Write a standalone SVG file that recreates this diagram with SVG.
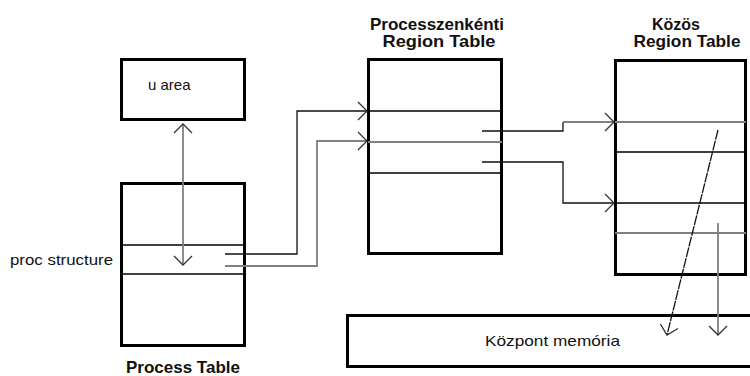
<svg xmlns="http://www.w3.org/2000/svg" width="750" height="376" viewBox="0 0 750 376">
<style>
.box{fill:#fff;stroke:#000;stroke-width:3}
.row{stroke:#000;stroke-width:1.3;fill:none}
.rowg{stroke:#808080;stroke-width:1.8;fill:none}
.ln{stroke:#111;stroke-width:1.3;fill:none}
.lng{stroke:#808080;stroke-width:1.8;fill:none}
.t{font-family:"Liberation Sans",Arial,sans-serif;font-size:15px;fill:#111}
.h{font-family:"Liberation Sans",Arial,sans-serif;font-size:16.5px;font-weight:bold;fill:#111}
</style>
<defs>
<marker id="ah" viewBox="0 0 24 24" refX="12" refY="12" markerWidth="24" markerHeight="24" markerUnits="userSpaceOnUse" orient="auto-start-reverse">
<path d="M3,3 L12,12 L3,21" fill="none" stroke="#333" stroke-width="1.3"/>
</marker>
</defs>
<g id="u-area">
<rect class="box" x="121.5" y="59.5" width="123" height="60"/>
<text class="t" x="148" y="90">u area</text>
</g>
<g id="process-table">
<rect class="box" x="121.5" y="183.5" width="123" height="162"/>
<line class="row" x1="121" y1="245" x2="246" y2="245"/>
<line class="row" x1="121" y1="274" x2="246" y2="274"/>
<text class="t" x="10" y="265" textLength="103" lengthAdjust="spacingAndGlyphs">proc structure</text>
<text class="h" x="183" y="373" text-anchor="middle" textLength="114" lengthAdjust="spacingAndGlyphs">Process Table</text>
</g>
<g id="proc-region-table">
<rect class="box" x="368.5" y="59.5" width="133" height="194"/>
<line class="row" x1="368" y1="111" x2="502" y2="111"/>
<line class="rowg" x1="368" y1="142" x2="502" y2="142"/>
<line class="row" x1="368" y1="173" x2="502" y2="173"/>
<text class="h" x="437" y="30" text-anchor="middle" textLength="134" lengthAdjust="spacingAndGlyphs">Processzenkénti</text>
<text class="h" x="439" y="47" text-anchor="middle" textLength="113" lengthAdjust="spacingAndGlyphs">Region Table</text>
</g>
<g id="shared-region-table">
<rect class="box" x="615.5" y="60.5" width="130" height="214"/>
<line class="rowg" x1="615" y1="122" x2="746" y2="122"/>
<line class="row" x1="615" y1="152" x2="746" y2="152"/>
<line class="row" x1="615" y1="203" x2="746" y2="203"/>
<line class="rowg" x1="615" y1="233" x2="746" y2="233"/>
<text class="h" x="676" y="30" text-anchor="middle" textLength="48" lengthAdjust="spacingAndGlyphs">Közös</text>
<text class="h" x="687" y="47" text-anchor="middle" textLength="107" lengthAdjust="spacingAndGlyphs">Region Table</text>
</g>
<g id="main-memory">
<rect class="box" x="347.5" y="315.5" width="410" height="51"/>
<text class="t" x="485" y="346" textLength="135" lengthAdjust="spacingAndGlyphs">Központ memória</text>
</g>
<g id="connectors">
<line class="lng" x1="183" y1="124" x2="183" y2="265" marker-start="url(#ah)" marker-end="url(#ah)"/>
<polyline class="ln" points="225,254 297,254 297,111 367,111" marker-end="url(#ah)"/>
<polyline class="lng" points="225,266 317,266 317,141 367,141" marker-end="url(#ah)"/>
<polyline class="ln" points="482,131 563,131 563,122"/>
<polyline class="lng" points="563,122 614,122" marker-end="url(#ah)"/>
<polyline class="ln" points="482,162 563,162 563,203 614,203" marker-end="url(#ah)"/>
<line class="ln" x1="718" y1="130" x2="667" y2="335" stroke-dasharray="10,1" marker-end="url(#ah)"/>
<line class="lng" x1="718" y1="223" x2="718" y2="335" marker-end="url(#ah)"/>
</g>
</svg>
